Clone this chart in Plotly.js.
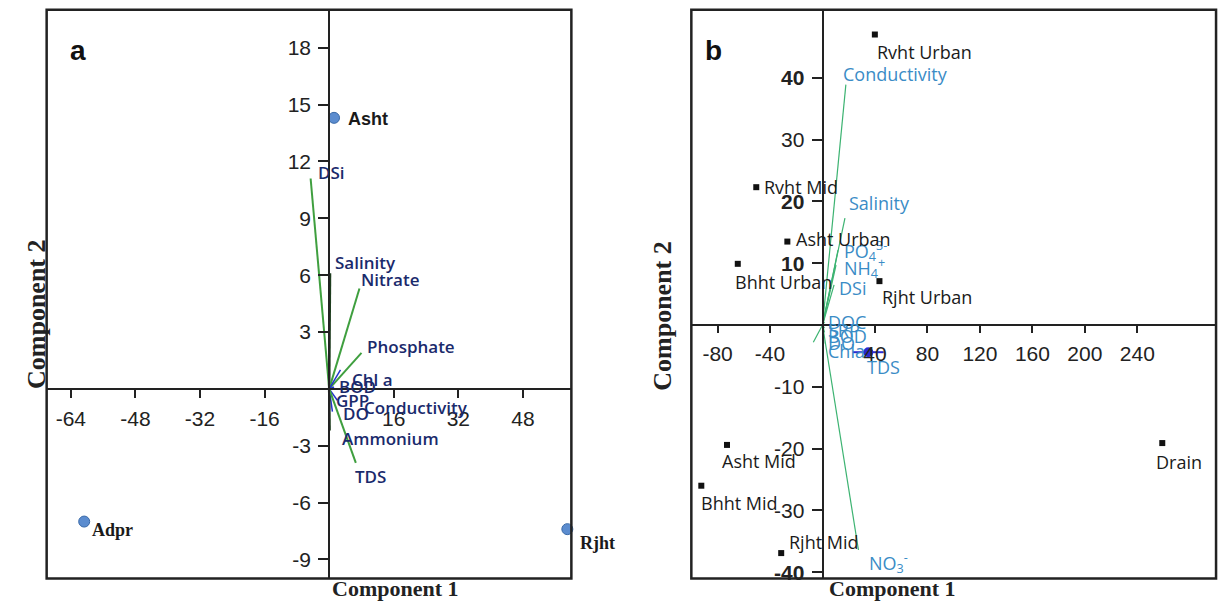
<!DOCTYPE html>
<html>
<head>
<meta charset="utf-8">
<script src="https://cdn.plot.ly/plotly-3.0.1.min.js"></script>
<style>html,body{margin:0;padding:0;background:#fff;}#chart{width:1218px;height:616px;}</style>
</head>
<body>
<div id="chart"></div>
<script>
// ---------------- Panel a data ----------------
const aSites = ['Asht', 'Adpr', 'Rjht'];
const aSiteX = [1.2, -60.7, 59.0];
const aSiteY = [14.3, -7.0, -7.4];

const aVars = ['DSi', 'Salinity', 'Nitrate', 'Phosphate', 'Chl a', 'BOD', 'GPP', 'Conductivity', 'DO', 'Ammonium', 'TDS'];
const aVarX = [-4.6, 0.2, 7.5, 8.0, 2.8, 1.2, 0.6, 2.0, 0.8, 0.1, 6.6];
const aVarY = [11.1, 6.1, 5.3, 1.9, 1.0, 0.1, -0.4, -0.6, -1.2, -2.2, -3.9];

const aXTicks = [-64, -48, -32, -16, 16, 32, 48];
const aYTicks = [-9, -6, -3, 3, 6, 9, 12, 15, 18];

// ---------------- Panel b data ----------------
const bSites = ['Rvht Urban', 'Rvht Mid', 'Asht Urban', 'Bhht Urban', 'Rjht Urban', 'Asht Mid', 'Bhht Mid', 'Rjht Mid', 'Drain'];
const bSiteX = [39.9, -50.5, -26.8, -64.6, 43.4, -72.8, -92.4, -31.5, 259];
const bSiteY = [47.0, 22.3, 13.5, 9.9, 7.1, -19.4, -26.0, -36.9, -19.1];

const bVars = ['Conductivity', 'Salinity', 'PO<sub>4</sub><sup>3-</sup>', 'NH<sub>4</sub><sup>+</sup>', 'DSi', 'DOC', 'SRP', 'BOD', 'DO', 'Chla', 'NO<sub>3</sub><sup>-</sup>', ''];
const bVarX = [17.8, 17.1, 11.8, 10.3, 8.8, 1.5, 1.5, 1.5, 1.0, 1.0, 27.4, -7.0];
const bVarY = [38.9, 17.3, 12.1, 9.7, 6.5, 0.5, -0.5, -1.2, -2.0, -3.0, -36.4, -2.8];

const bTds = ['TDS'];
const bTdsX = [34.9];
const bTdsY = [-4.4];

const bXTicks = [-80, -40, 40, 80, 120, 160, 200, 240];
const bYTicks = [-40, -30, -20, -10, 10, 20, 30, 40];
const bYTickText = ['<b>-40</b>', '-30', '-20', '-10', '<b>10</b>', '<b>20</b>', '30', '<b>40</b>'];

// ---------------- styles (not data) ----------------
const aVarColor = ['#3f9f3f', '#1e3d1e', '#3f9f3f', '#3f9f3f', '#2233cc', '#2233cc', '#2233cc', '#2233cc', '#2233cc', '#1e3d1e', '#3f9f3f'];
const aVarWidth = [2, 2.5, 2, 2, 1.5, 1.5, 1.5, 1.5, 1.5, 2.5, 2];
const aLabOff = [[5, 6], [3, 11], [0, 9], [4, 6], [10, -10], [3, 0], [2, -4], [25, -7], [9, -2], [10, -8], [-3, -14]];
const aSiteOff = [[12, -1], [6, -8], [11, -14]];
const aSiteFont = ['Liberation Sans, Arial, sans-serif', 'Liberation Serif, Times New Roman, serif', 'Liberation Serif, Times New Roman, serif'];

const bLabOff = [[-5, 11], [2, 15], [4, -1], [6, -3], [3, -3], [2, 0], [2, -2], [2, -4], [2, -6], [2, -7], [9, -13], [0, 0]];
const bSiteOff = [[0, -17], [6, 0], [7, 3], [-5, -18], [1, -16], [-7, -16], [-2, -17], [6, 11], [-8, -19]];

const axCol = '#222';
const xDomA = [0.0383, 0.4691];
const xDomB = [0.5676, 0.9984];
const yDom = [0.0610, 0.9841];
const rangeAX = [-70, 60], rangeAY = [-10, 20];
const rangeBX = [-100, 300], rangeBY = [-41, 51];

function zeroPos(dom, r) { return dom[0] + (0 - r[0]) / (r[1] - r[0]) * (dom[1] - dom[0]); }

const traces = [];
const annotations = [];

// Panel a vectors
aVars.forEach((v, i) => {
  traces.push({
    type: 'scatter', mode: 'lines', xaxis: 'x', yaxis: 'y',
    x: [0, aVarX[i]], y: [0, aVarY[i]],
    line: {color: aVarColor[i], width: aVarWidth[i]}, hoverinfo: 'skip'
  });
  annotations.push({
    xref: 'x', yref: 'y', x: aVarX[i], y: aVarY[i], text: v, showarrow: false,
    xanchor: 'left', yanchor: 'middle', xshift: aLabOff[i][0], yshift: aLabOff[i][1],
    font: {family: 'Open Sans, Noto Sans, sans-serif', size: 17, weight: 600, color: '#1a2a6c'}
  });
});
// Panel a sites
traces.push({
  type: 'scatter', mode: 'markers', xaxis: 'x', yaxis: 'y', cliponaxis: false,
  x: aSiteX, y: aSiteY, text: aSites,
  marker: {symbol: 'circle', size: 11, color: '#5b8ccf', line: {color: '#3a6aa8', width: 1}}
});
aSites.forEach((s, i) => {
  annotations.push({
    xref: 'x', yref: 'y', x: aSiteX[i], y: aSiteY[i], text: '<b>' + s + '</b>', showarrow: false,
    xanchor: 'left', yanchor: 'middle', xshift: aSiteOff[i][0], yshift: aSiteOff[i][1],
    font: {family: aSiteFont[i], size: 18, color: '#1a1a1a'}
  });
});

// Panel b vectors
bVars.forEach((v, i) => {
  traces.push({
    type: 'scatter', mode: 'lines', xaxis: 'x2', yaxis: 'y2',
    x: [0, bVarX[i]], y: [0, bVarY[i]],
    line: {color: '#3cb371', width: 1.2}, hoverinfo: 'skip'
  });
  if (v) annotations.push({
    xref: 'x2', yref: 'y2', x: bVarX[i], y: bVarY[i], text: v, showarrow: false,
    xanchor: 'left', yanchor: 'middle', xshift: bLabOff[i][0], yshift: bLabOff[i][1],
    font: {family: 'Open Sans, Noto Sans, sans-serif', size: 18, color: '#3a8cc6'}
  });
});
// Panel b TDS marker
traces.push({
  type: 'scatter', mode: 'markers', xaxis: 'x2', yaxis: 'y2',
  x: bTdsX, y: bTdsY,
  marker: {symbol: 'circle', size: 10, color: '#2a2ad0'}
});
traces.push({
  type: 'scatter', mode: 'markers', xaxis: 'x2', yaxis: 'y2',
  x: bTdsX, y: bTdsY,
  marker: {symbol: 'line-ew', size: 22, line: {color: '#2a2ad0', width: 2}}
});
annotations.push({
  xref: 'x2', yref: 'y2', x: bTdsX[0], y: bTdsY[0], text: bTds[0], showarrow: false,
  xanchor: 'left', yanchor: 'middle', xshift: -3, yshift: -15,
  font: {family: 'Open Sans, Noto Sans, sans-serif', size: 18, color: '#3a8cc6'}
});
// Panel b sites
traces.push({
  type: 'scatter', mode: 'markers', xaxis: 'x2', yaxis: 'y2', cliponaxis: false,
  x: bSiteX, y: bSiteY, text: bSites,
  marker: {symbol: 'square', size: 6, color: '#111'}
});
bSites.forEach((s, i) => {
  annotations.push({
    xref: 'x2', yref: 'y2', x: bSiteX[i], y: bSiteY[i], text: s, showarrow: false,
    xanchor: 'left', yanchor: 'middle', xshift: bSiteOff[i][0], yshift: bSiteOff[i][1],
    font: {family: 'Open Sans, Noto Sans, sans-serif', size: 18, color: '#1a1a1a'}
  });
});

// Panel letters and axis titles
annotations.push({xref: 'paper', yref: 'paper', x: 0.0558, y: 0.9464, text: '<b>a</b>', showarrow: false,
  font: {family: 'Liberation Sans, Arial, sans-serif', size: 28, color: '#111'}});
annotations.push({xref: 'paper', yref: 'paper', x: 0.5854, y: 0.9464, text: '<b>b</b>', showarrow: false,
  font: {family: 'Liberation Sans, Arial, sans-serif', size: 28, color: '#111'}});
const titleFont = {family: 'Liberation Serif, Times New Roman, serif', size: 22, color: '#222'};
const vTitleFont = {family: 'Liberation Serif, Times New Roman, serif', size: 26, color: '#222'};
annotations.push({xref: 'paper', yref: 'paper', x: 0.2709, y: 0.0211, text: '<b>Component 1</b>', showarrow: false, font: titleFont});
annotations.push({xref: 'paper', yref: 'paper', x: 0.7865, y: 0.0211, text: '<b>Component 1</b>', showarrow: false, font: titleFont});
annotations.push({xref: 'paper', yref: 'paper', x: 0.0160, y: 1 - 314 / 616, text: '<b>Component 2</b>', showarrow: false, textangle: -90, font: vTitleFont});
annotations.push({xref: 'paper', yref: 'paper', x: 0.5433, y: 1 - 316 / 616, text: '<b>Component 2</b>', showarrow: false, textangle: -90, font: vTitleFont});

const tickFont = {family: 'Liberation Sans, Arial, sans-serif', size: 21, color: '#222'};
function axis(dom, range, pos, vals, text, len) {
  return {
    domain: dom, range: range, anchor: 'free', position: pos,
    tickmode: 'array', tickvals: vals, ticktext: text,
    ticks: 'outside', ticklen: len, tickwidth: 2, tickcolor: axCol,
    showline: true, linewidth: 2, linecolor: axCol,
    showgrid: false, zeroline: false, tickfont: tickFont, ticklabelstandoff: 3,
    fixedrange: true
  };
}

const layout = {
  width: 1218, height: 616,
  margin: {l: 0, r: 0, t: 0, b: 0},
  paper_bgcolor: '#ffffff', plot_bgcolor: '#ffffff',
  showlegend: false,
  xaxis: axis(xDomA, rangeAX, zeroPos(yDom, rangeAY), aXTicks, aXTicks.map(String), 8),
  yaxis: axis(yDom, rangeAY, zeroPos(xDomA, rangeAX), aYTicks, aYTicks.map(String), 10),
  xaxis2: axis(xDomB, rangeBX, zeroPos(yDom, rangeBY), bXTicks, bXTicks.map(String), 7),
  yaxis2: axis(yDom, rangeBY, zeroPos(xDomB, rangeBX), bYTicks, bYTickText, 10),
  shapes: [
    {type: 'rect', xref: 'x domain', yref: 'y domain', x0: 0, x1: 1, y0: 0, y1: 1, line: {color: axCol, width: 2.5}},
    {type: 'rect', xref: 'x2 domain', yref: 'y2 domain', x0: 0, x1: 1, y0: 0, y1: 1, line: {color: axCol, width: 2.5}}
  ],
  annotations: annotations
};

Plotly.newPlot('chart', traces, layout, {displayModeBar: false, staticPlot: true});
</script>
</body>
</html>
